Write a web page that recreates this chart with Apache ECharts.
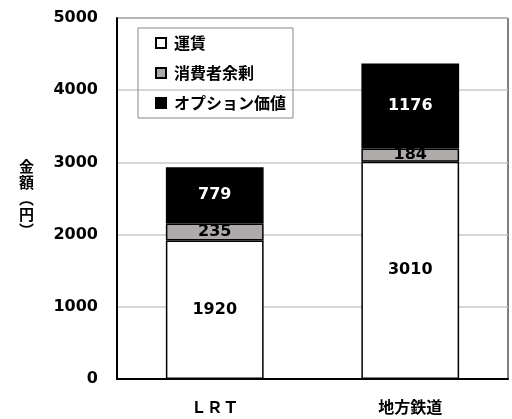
<!DOCTYPE html>
<html>
<head>
<meta charset="utf-8">
<script src="https://cdn.jsdelivr.net/npm/echarts@6/dist/echarts.min.js"></script>
<style>
html, body { margin: 0; padding: 0; background: #fff; }
#con { width: 512px; height: 419px; }
</style>
</head>
<body>
<div id="con"></div>
<script>
var categories = ['ＬＲＴ', '地方鉄道'];
var fare = [1920, 3010];
var surplus = [235, 184];
var optionValue = [779, 1176];
var yTicks = [0, 1000, 2000, 3000, 4000, 5000];

var numFont = '"DejaVu Sans", Verdana, sans-serif';
var jpFont = '"Noto Sans CJK JP", sans-serif';

var myChart = echarts.init(document.getElementById('con'));

var barLabel = function(color) {
    return {
        show: true,
        position: 'inside',
        color: color,
        fontFamily: numFont,
        fontWeight: 'bold',
        fontSize: 16
    };
};

var option = {
    animation: false,
    backgroundColor: '#fff',
    grid: {
        left: 117, right: 4, top: 18, bottom: 40,
        show: true, borderColor: '#000', borderWidth: 1
    },
    legend: {
        orient: 'vertical',
        left: 138, top: 28,
        padding: [5, 7, 5, 17],
        borderColor: '#888', borderWidth: 1,
        itemWidth: 10, itemHeight: 10, itemGap: 10,
        icon: 'rect',
        textStyle: { fontFamily: jpFont, fontWeight: 'bold', fontSize: 16, lineHeight: 20, color: '#000', padding: [0, 0, 0, 3] },
        data: ['運賃', '消費者余剰', 'オプション価値']
    },
    xAxis: {
        type: 'category',
        data: categories,
        axisLine: { lineStyle: { color: '#000', width: 2 } },
        axisTick: { show: false },
        axisLabel: { margin: 20, color: '#000', fontFamily: jpFont, fontWeight: 'bold', fontSize: 16 }
    },
    yAxis: {
        type: 'value',
        min: yTicks[0], max: yTicks[yTicks.length - 1], interval: 1000,
        name: '金\n額\n︵\n円\n︶',
        nameLocation: 'middle',
        nameRotate: 0,
        nameGap: 83,
        nameTextStyle: { fontFamily: jpFont, fontWeight: 'bold', fontSize: 15, lineHeight: 16, color: '#000', padding: [0, 0, 14, 0] },
        axisLine: { show: true, lineStyle: { color: '#000', width: 2 } },
        axisTick: { show: false },
        axisLabel: {
            margin: 19, color: '#000', fontFamily: numFont, fontWeight: 'bold', fontSize: 16,
            formatter: function(v) { return String(v); }
        },
        splitLine: { lineStyle: { color: '#c8c8c8', width: 1.5 } }
    },
    series: [
        {
            name: '運賃', type: 'bar', stack: 'a', barWidth: '50%',
            data: fare,
            itemStyle: { color: '#fff', borderColor: '#000', borderWidth: 1.5 },
            label: barLabel('#000')
        },
        {
            name: '消費者余剰', type: 'bar', stack: 'a',
            data: surplus,
            itemStyle: { color: '#aeaaaa', borderColor: '#000', borderWidth: 1.5 },
            label: barLabel('#000')
        },
        {
            name: 'オプション価値', type: 'bar', stack: 'a',
            data: optionValue,
            itemStyle: { color: '#000', borderColor: '#000', borderWidth: 1.5 },
            label: barLabel('#fff')
        }
    ]
};
myChart.setOption(option);
</script>
</body>
</html>
